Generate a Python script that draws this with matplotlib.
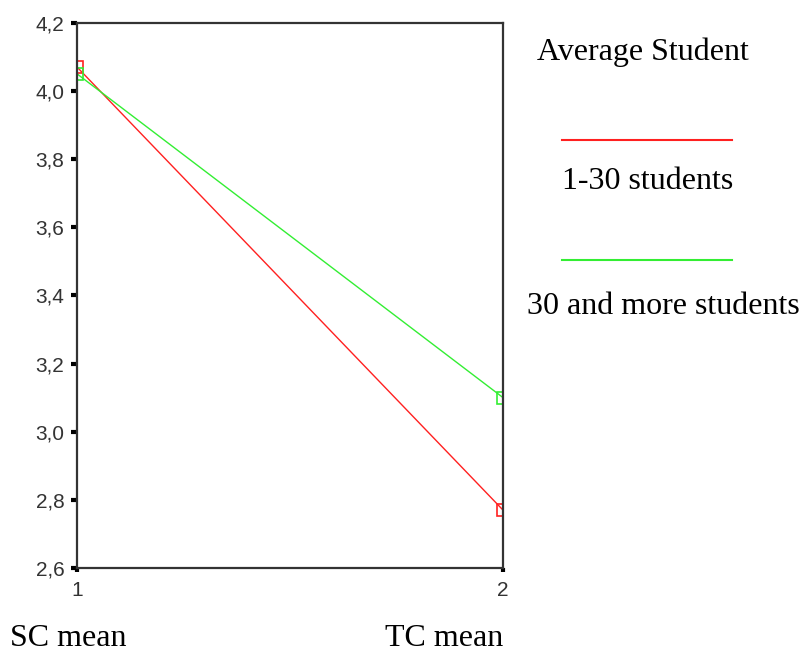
import matplotlib
matplotlib.use("Agg")
import matplotlib.pyplot as plt
from matplotlib.lines import Line2D

x_vals = [1, 2]
small_class = [4.07, 2.77]      # 1-30 students
large_class = [4.05, 3.10]      # 30 and more students
y_ticks = [2.6, 2.8, 3.0, 3.2, 3.4, 3.6, 3.8, 4.0, 4.2]
y_tick_labels = ["2,6", "2,8", "3,0", "3,2", "3,4", "3,6", "3,8", "4,0", "4,2"]
x_ticks = [1, 2]
x_tick_labels = ["1", "2"]

fig = plt.figure(figsize=(8.12, 6.55), dpi=100)
ax = fig.add_axes([77/812, 1-568/655, (503-77)/812, (568-22.7)/655])

red = "#ff2020"
green = "#33ee33"
ax.plot(x_vals, small_class, color=red, lw=1.0, marker="s", ms=8,
        mfc="none", mec=red, mew=1.2)
ax.plot(x_vals, large_class, color=green, lw=1.0, marker="s", ms=8,
        mfc="none", mec=green, mew=1.2)

ax.set_xlim(1, 2)
ax.set_ylim(2.6, 4.2)
ax.set_yticks(y_ticks)
ax.set_yticklabels(y_tick_labels)
ax.set_xticks(x_ticks)
ax.set_xticklabels(x_tick_labels)
for s in ax.spines.values():
    s.set_linewidth(1.6)
    s.set_color("#333333")
ax.tick_params(axis="y", direction="out", length=4, width=3, pad=5,
               labelsize=15, labelcolor="#333333")
ax.tick_params(axis="x", direction="out", length=3, width=3, pad=6,
               labelsize=15, labelcolor="#333333")
for lab in ax.get_xticklabels() + ax.get_yticklabels():
    lab.set_family("Liberation Sans")

serif = "Liberation Serif"
fs = 23
fig.text(537/812, 1-52/655, "Average Student", family=serif, fontsize=fs,
         ha="left", va="center")
fig.add_artist(Line2D([562/812, 732/812], [1-140/655, 1-140/655],
                      color=red, lw=1.5, transform=fig.transFigure))
fig.text(562/812, 1-182/655, "1-30 students", family=serif, fontsize=fs,
         ha="left", va="center")
fig.add_artist(Line2D([562/812, 732/812], [1-260/655, 1-260/655],
                      color=green, lw=1.5, transform=fig.transFigure))
fig.text(527/812, 1-306/655, "30 and more students", family=serif, fontsize=fs,
         ha="left", va="center")
fig.text(10/812, 1-638/655, "SC mean", family=serif, fontsize=fs,
         ha="left", va="center")
fig.text(385/812, 1-638/655, "TC mean", family=serif, fontsize=fs,
         ha="left", va="center")

fig.savefig("out.png", dpi=100)
